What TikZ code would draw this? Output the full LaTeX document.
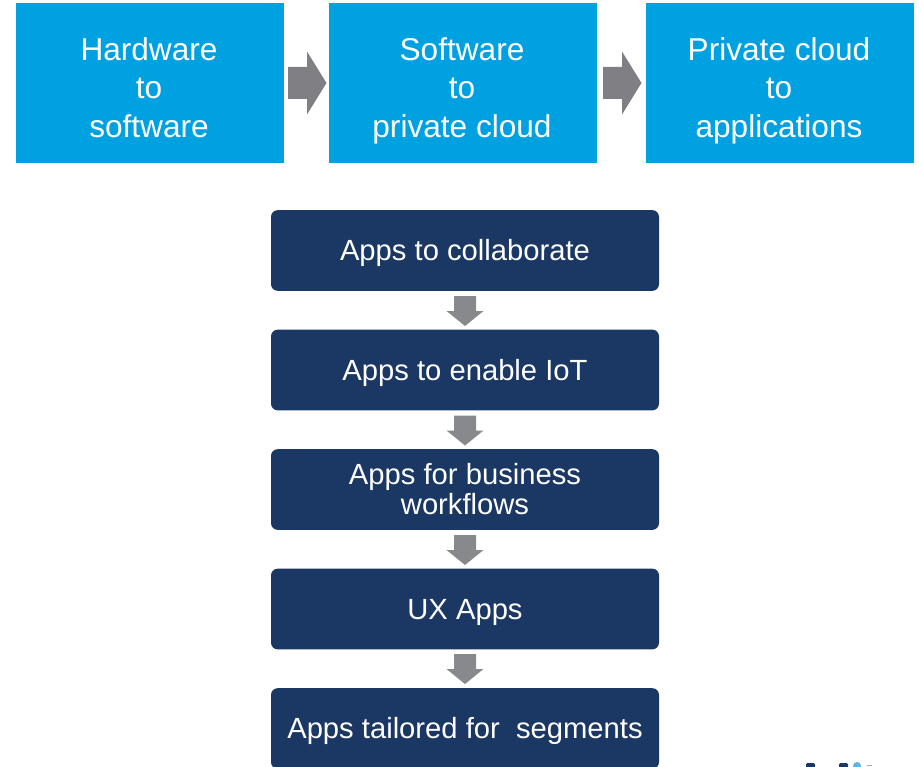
\documentclass[tikz,border=0pt]{standalone}
\usepackage{fontspec}
\setmainfont{Liberation Sans}
\definecolor{topblue}{HTML}{00A1E0}
\definecolor{navy}{HTML}{1B3764}
\definecolor{arrowgrey}{HTML}{808084}
\definecolor{downgrey}{HTML}{88898C}
\definecolor{logoblue}{HTML}{5BB3E6}
\tikzset{
 x=0.75pt,y=-0.75pt,
 topbox/.style={fill=topblue,draw=none,minimum width=201pt,minimum height=120pt,inner sep=0pt},
 toptext/.style={inner sep=0pt,text=white,align=center,font=\fontsize{23.7pt}{28.9pt}\selectfont},
 appbox/.style={fill=navy,draw=none,rounded corners=5pt,minimum width=291pt,minimum height=60.5pt,inner sep=0pt,text=white,align=center,
   font=\fontsize{21.9pt}{22.5pt}\selectfont},
 oneline/.style={text height=15pt,text depth=0pt},
 rightarrow/.style={fill=arrowgrey,draw=none},
 downarrow/.style={fill=downgrey,draw=none},
}
\newcommand{\rarrow}[2]{\fill[rightarrow] (#1,#2) ++(0,-16) -- ++(19,0) -- ++(0,-15.5) -- ++(19.5,31.5) -- ++(-19.5,31.5) -- ++(0,-15.5) -- ++(-19,0) -- cycle;}
\newcommand{\darrow}[1]{\fill[downarrow] (454,#1) -- (476,#1) -- ++(0,15) -- ++(7.5,0) -- ++(-18.5,15) -- ++(-18.5,-15) -- ++(7.5,0) -- cycle;}
\begin{document}
\begin{tikzpicture}
\useasboundingbox (0,0) rectangle (919,766);
\node[topbox] (t1) at (150,83) {};
\node[topbox] (t2) at (463,83) {};
\node[topbox] (t3) at (780,83) {};
\node[toptext] (t1text) at (149,91) {\strut Hardware\\to\\software\strut};
\node[toptext] (t2text) at (462,91) {\strut Software\\to\\private cloud\strut};
\node[toptext] (t3text) at (779,91) {\strut Private cloud\\to\\applications\strut};
\rarrow{288}{83}
\rarrow{603}{83}
\node[appbox,oneline] (a1) at (465,250.5) {Apps to collaborate};
\node[appbox,oneline] (a2) at (465,370) {Apps to enable IoT};
\node[appbox] (a3) at (465,489.5) {Apps for business\\workflows};
\node[appbox,oneline] (a4) at (465,609) {UX Apps};
\begin{scope}
\clip (0,0) rectangle (919,766);
\node[appbox,oneline] (a5) at (465,728.5) {Apps tailored for~ segments};
\fill[navy,rounded corners=1pt] (806,768) rectangle (815,763);
\fill[navy,rounded corners=1pt] (839,768) rectangle (848,763);
\fill[logoblue] (857,766) circle (4);
\fill[downgrey!70] (867,765) rectangle (872,766);
\end{scope}
\darrow{296}
\darrow{415.5}
\darrow{535}
\darrow{654}
\end{tikzpicture}
\end{document}
